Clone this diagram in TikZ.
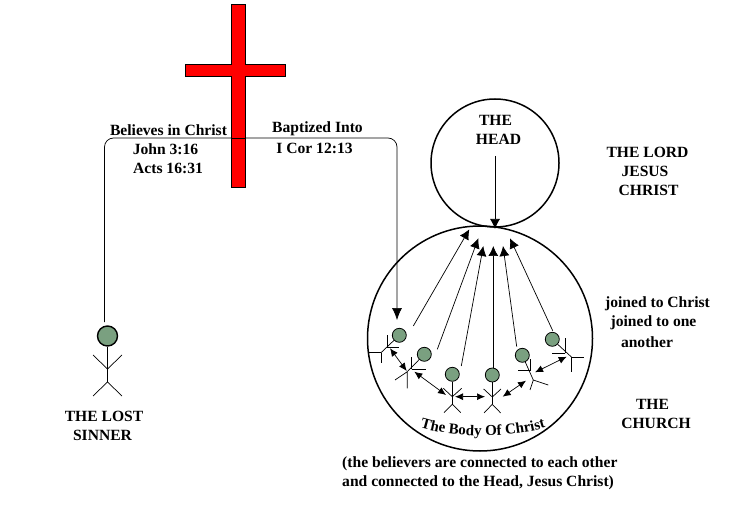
\documentclass[tikz,border=0pt]{standalone}
\usepackage{fontspec}
\setmainfont{Liberation Serif}
\usetikzlibrary{arrows.meta,decorations.text}
\definecolor{headgreen}{RGB}{122,160,128}
\tikzset{
  x=1pt,y=-1pt,
  label text/.style={inner sep=0pt,font=\fontsize{15.6}{16}\selectfont\bfseries,text=black,align=center},
  ring/.style={draw=black,line width=1.5pt,fill=none,circle,minimum size=0pt,inner sep=0pt},
  believer/.style={circle,draw=black,line width=0.8pt,fill=headgreen,inner sep=0pt,minimum size=14pt},
  limb/.style={draw=black,line width=0.7pt},
  link/.style={draw=black,line width=0.7pt,{Latex[length=8pt,width=7pt]}-{Latex[length=8pt,width=7pt]}},
  toward/.style={draw=black,line width=0.7pt,-{Latex[length=10pt,width=10pt]}}
}
\begin{document}
\begin{tikzpicture}
\useasboundingbox (0,0) rectangle (730,510);
\fill[white] (0,0) rectangle (730,510);

% The two great circles
\node[ring,minimum size=128pt] (head) at (495,163) {};
\node[ring,minimum size=225pt] (body) at (480,338.5) {};

% Anchor points of the connectors
\coordinate (lostTop) at (104.5,322);
\coordinate (firstIn) at (397,320);

% Path from the sinner through the cross to the body
\draw[line width=0.7pt,rounded corners=9pt,-{Latex[length=12pt,width=10pt]}]
  (lostTop) -- (104.5,138) -- (397,138) -- (firstIn);

% The cross, with the path showing across its upright
\draw[black,line width=0.9pt,fill=red] (231.5,4.5) rectangle (245.5,187);
\draw[black,line width=0.9pt,fill=red] (185.5,64.5) rectangle (285.5,76);
\fill[red] (232,64) rectangle (245,77);
\draw[black,line width=0.7pt] (231.5,138) -- (245.5,138);

% Lost sinner
\node[circle,draw=black,line width=1.4pt,fill=headgreen,inner sep=0pt,minimum size=20pt] (lost) at (107.5,336) {};
\draw[black,line width=1.3pt] (lost.south) -- (107.5,382);
\draw[limb] (93,355) -- (107.5,369) -- (122,355);
\draw[limb] (93,396) -- (107.5,382) -- (122,396);

% Believers in the body
\node[believer] (b1) at (399.3,335.3) {};
\node[believer] (b2) at (424.3,354.3) {};
\node[believer] (b3) at (452.3,374.3) {};
\node[believer] (b4) at (492.3,375) {};
\node[believer] (b5) at (522.3,355.3) {};
\node[believer] (b6) at (552.3,339.3) {};

% Their stick bodies
\draw[limb] (b1) -- (381,352.7);
\draw[limb] (387.3,347) -- (387.3,335) (387.3,347) -- (399,347);
\draw[limb] (381,352.7) -- (368.3,352.7) (381,352.7) -- (381,362.7);

\draw[limb] (b2) -- (407.3,371.7);
\draw[limb] (411.7,369) -- (411.7,357.3) (411.7,369) -- (425.7,369);
\draw[limb] (407.3,371.7) -- (395,380) (407.3,371.7) -- (407.3,388.3);

\draw[limb] (b3) -- (452.3,404.3);
\draw[limb] (443.3,388.3) -- (452.3,396.7) -- (461.7,388.3);
\draw[limb] (444,412.7) -- (452.3,404.3) -- (460.7,412.7);

\draw[limb] (b4) -- (492.3,404.3);
\draw[limb] (483.7,389) -- (492.3,397) -- (501,389);
\draw[limb] (484,413) -- (492.3,404.3) -- (500.7,413);

\draw[limb] (b5) -- (533.3,380);
\draw[limb] (530,370.7) -- (518.3,370.7) (530,370.7) -- (530,359.3);
\draw[limb] (533.3,380) -- (548.3,385) (533.3,380) -- (530,390);

\draw[limb] (b6) -- (571.7,357.3);
\draw[limb] (565,353.3) -- (551.7,353.3) (565,353.3) -- (565,338.3);
\draw[limb] (571.7,357.3) -- (584.3,357.3) (571.7,357.3) -- (571.7,371.7);

% Believers joined to the Head
\coordinate (h1) at (469.3,229.3);
\coordinate (h2) at (478.3,238.3);
\coordinate (h3) at (483.3,246);
\coordinate (h4) at (493.3,246);
\coordinate (h5) at (503,246);
\coordinate (h6) at (510,238.3);
\draw[toward] (413.3,326) -- (h1);
\draw[toward] (437.3,349.3) -- (h2);
\draw[toward] (461.3,366) -- (h3);
\draw[toward] (493.3,368.3) -- (h4);
\draw[toward] (516.7,346.7) -- (h5);
\draw[toward] (552.7,330.7) -- (h6);

% The Head joined to the body
\coordinate (neck) at (495,229);
\draw[toward] (495,156) -- (neck);

% Believers joined to one another
\draw[link] (390,348.3) -- (406.7,371);
\draw[link] (414.3,371.7) -- (446,395);
\draw[link] (455,396.7) -- (485,396.7);
\draw[link] (502.7,396.7) -- (526,380.7);
\draw[link] (535,372.3) -- (566.7,356.7);

% Labels
\node[label text] (t1) at (168.5,130) {Believes in Christ};
\node[label text] (t2) at (165.5,149) {John 3:16};
\node[label text] (t3) at (168,168) {Acts 16:31};
\node[label text] (t4) at (317.5,129) {Baptized Into};
\node[label text] (t5) at (314.5,148) {I Cor 12:13};
\node[label text] (t6) at (495.5,120) {THE};
\node[label text] (t7) at (498.5,139) {HEAD};
\node[label text] (t8) at (647.5,152) {THE LORD};
\node[label text] (t9) at (645,171) {JESUS};
\node[label text] (t10) at (648.5,190) {CHRIST};
\node[label text] (t11) at (657.5,304) {joined to Christ};
\node[label text] (t12) at (653.5,323) {joined to one};
\node[label text] (t13) at (647,342) {another};
\node[label text] (t14) at (652.5,404) {THE};
\node[label text] (t15) at (656,423) {CHURCH};
\node[label text] (t16) at (104,416) {THE LOST};
\node[label text] (t17) at (102.5,435) {SINNER};
\node[label text,anchor=west] (t18) at (342,464) {(the believers are connected to each other};
\node[label text,anchor=west] (t19) at (342,483) {and connected to the Head, Jesus Christ)};

% Arched lettering inside the body circle
\path[decorate,decoration={text along path,text align=center,
    text={|\fontsize{15}{15}\selectfont\bfseries|The Body Of Christ}}]
  (422,428) .. controls (455,438) and (510,438) .. (544,428);
\end{tikzpicture}
\end{document}
